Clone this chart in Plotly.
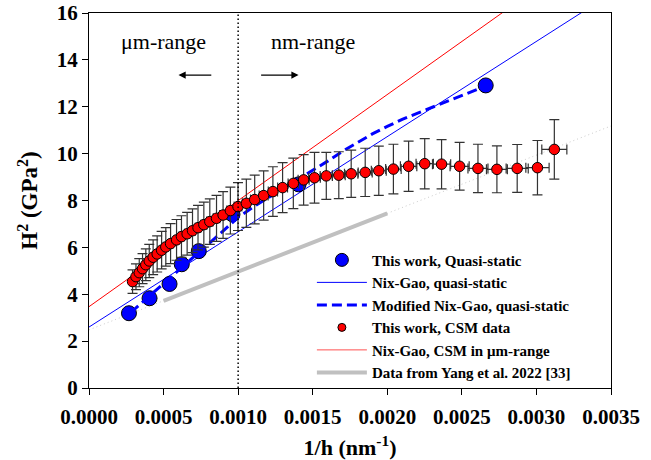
import plotly.graph_objects as go

# ---------------- data ----------------
# Quasi-static hardness (blue points)
qs_x = [0.000268, 0.000406, 0.000540, 0.000622, 0.000736, 0.000962, 0.001405, 0.002660]
qs_y = [3.19, 3.83, 4.44, 5.28, 5.84, 7.41, 8.69, 12.91]

# Nix-Gao fit, quasi-static (blue solid)
ng_qs_x = [0.0, 0.0035]
ng_qs_y = [2.60, 16.82]

# Modified Nix-Gao, quasi-static (blue dashed)
mng_x = [0.00028, 0.00040, 0.00050, 0.00060, 0.00070, 0.00080, 0.00090, 0.00100,
         0.00110, 0.00120, 0.00130, 0.00140, 0.00150, 0.00160, 0.00170, 0.00180,
         0.00190, 0.00200, 0.00210, 0.00220, 0.00230, 0.00240, 0.00250, 0.00262]
mng_y = [3.22, 3.88, 4.45, 5.02, 5.58, 6.13, 6.70, 7.28,
         7.72, 8.11, 8.50, 8.89, 9.28, 9.68, 10.10, 10.48,
         10.84, 11.16, 11.46, 11.72, 11.98, 12.23, 12.48, 12.78]

# CSM data (red points with error bars)
csm_x = [0.000292, 0.000315, 0.000337, 0.000359, 0.000381, 0.000404, 0.000430, 0.000457,
         0.000487, 0.000515, 0.000547, 0.000587, 0.000620, 0.000658, 0.000694, 0.000731,
         0.000770, 0.000810, 0.000855, 0.000899, 0.000948, 0.000999, 0.001055, 0.001111,
         0.001171, 0.001233, 0.001298, 0.001370, 0.001439, 0.001512, 0.001591, 0.001675,
         0.001758, 0.001852, 0.001943, 0.002041, 0.002143, 0.002251, 0.002364, 0.002485,
         0.002608, 0.002735, 0.002871, 0.003007, 0.003120]
csm_y = [4.54, 4.75, 4.92, 5.09, 5.26, 5.42, 5.58, 5.72,
         5.88, 6.02, 6.16, 6.32, 6.46, 6.58, 6.71, 6.84,
         6.97, 7.10, 7.24, 7.38, 7.57, 7.74, 7.88, 8.04,
         8.21, 8.38, 8.55, 8.73, 8.88, 8.97, 9.05, 9.08,
         9.14, 9.20, 9.27, 9.34, 9.46, 9.57, 9.55, 9.46,
         9.37, 9.33, 9.37, 9.40, 10.18]
csm_yerr = [0.50, 0.55, 0.60, 0.64, 0.68, 0.71, 0.74, 0.77,
            0.80, 0.82, 0.85, 0.87, 0.89, 0.91, 0.93, 0.95,
            0.96, 0.97, 0.98, 1.00, 1.00, 1.02, 1.03, 1.04,
            1.05, 1.06, 1.07, 1.08, 1.08, 1.08, 1.00, 1.00,
            1.01, 1.03, 1.05, 1.06, 1.07, 1.07, 1.05, 1.02,
            1.03, 1.00, 1.02, 1.16, 1.27]
csm_xerr = [0.000008, 0.000008, 0.000009, 0.000009, 0.000010, 0.000010, 0.000011, 0.000012,
            0.000012, 0.000013, 0.000014, 0.000015, 0.000016, 0.000017, 0.000018, 0.000019,
            0.000020, 0.000021, 0.000022, 0.000023, 0.000024, 0.000026, 0.000027, 0.000028,
            0.000030, 0.000031, 0.000033, 0.000035, 0.000037, 0.000039, 0.000041, 0.000043,
            0.000045, 0.000047, 0.000050, 0.000052, 0.000055, 0.000058, 0.000061, 0.000064,
            0.000067, 0.000070, 0.000074, 0.000078, 0.000084]

# Nix-Gao fit, CSM in um-range (red solid)
ng_csm_x = [0.0, 0.0035]
ng_csm_y = [3.47, 19.31]

# Data from Yang et al. 2022 (gray thick) and its extension (gray dotted)
yang_x = [0.0005, 0.0020]
yang_y = [3.72, 7.45]
yang_ext_x = [0.0, 0.0035]
yang_ext_y = [2.48, 11.18]

x_ticks = [0.0, 0.0005, 0.0010, 0.0015, 0.0020, 0.0025, 0.0030, 0.0035]
x_tick_labels = ["0.0000", "0.0005", "0.0010", "0.0015", "0.0020", "0.0025", "0.0030", "0.0035"]
y_ticks = [0, 2, 4, 6, 8, 10, 12, 14, 16]
boundary_x = 0.001

legend_names = ["This work, Quasi-static", "Nix-Gao, quasi-static",
                "Modified Nix-Gao, quasi-static", "This work, CSM data",
                "Nix-Gao, CSM in \u03bcm-range", "Data from Yang et al. 2022 [33]"]

FONT = "Liberation Serif"
BLUE = "#0000ff"
RED = "#ff0000"
GRAY = "#c0c0c0"

fig = go.Figure()

# gray dotted extension and thick gray data
fig.add_trace(go.Scatter(x=yang_ext_x, y=yang_ext_y, mode="lines",
                         line=dict(color="#cccccc", width=1, dash="1px,3px"), showlegend=False))
fig.add_trace(go.Scatter(x=yang_x, y=yang_y, mode="lines",
                         line=dict(color=GRAY, width=4), showlegend=False))
# Nix-Gao lines
fig.add_trace(go.Scatter(x=ng_qs_x, y=ng_qs_y, mode="lines",
                         line=dict(color=BLUE, width=1), showlegend=False))
fig.add_trace(go.Scatter(x=ng_csm_x, y=ng_csm_y, mode="lines",
                         line=dict(color=RED, width=1), showlegend=False))
# quasi-static points
fig.add_trace(go.Scatter(x=qs_x, y=qs_y, mode="markers",
                         marker=dict(color=BLUE, size=15, line=dict(color="black", width=1)),
                         showlegend=False))
# modified Nix-Gao dashed
fig.add_trace(go.Scatter(x=mng_x, y=mng_y, mode="lines",
                         line=dict(color=BLUE, width=3, dash="10px,5px"), showlegend=False))
# CSM points with error bars
fig.add_trace(go.Scatter(x=csm_x, y=csm_y, mode="markers",
                         marker=dict(color=RED, size=10.5, line=dict(color="black", width=1)),
                         error_y=dict(type="data", array=csm_yerr, visible=True,
                                      color="#333333", thickness=1.2, width=5),
                         error_x=dict(type="data", array=csm_xerr, visible=True,
                                      color="#333333", thickness=1.2, width=5),
                         showlegend=False))

# legend-only entries
fig.add_trace(go.Scatter(x=[None], y=[None], mode="markers", name=legend_names[0],
                         marker=dict(color=BLUE, size=13, line=dict(color="black", width=1)),
                         legendgroup="a"))
fig.add_trace(go.Scatter(x=[None], y=[None], mode="lines", name=legend_names[1],
                         line=dict(color=BLUE, width=1), legendgroup="a"))
fig.add_trace(go.Scatter(x=[None], y=[None], mode="lines", name=legend_names[2],
                         line=dict(color=BLUE, width=3, dash="10px,5px"), legendgroup="a"))
fig.add_trace(go.Scatter(x=[None], y=[None], mode="markers", name=legend_names[3],
                         marker=dict(color=RED, size=8, line=dict(color="black", width=1)),
                         legendgroup="b"))
fig.add_trace(go.Scatter(x=[None], y=[None], mode="lines", name=legend_names[4],
                         line=dict(color="#ff5050", width=1), legendgroup="b"))
fig.add_trace(go.Scatter(x=[None], y=[None], mode="lines", name=legend_names[5],
                         line=dict(color=GRAY, width=4), legendgroup="b"))

# vertical boundary line
fig.add_shape(type="line", xref="x", yref="y", x0=boundary_x, x1=boundary_x, y0=0, y1=16,
              line=dict(color="black", width=1.5, dash="1.5px,2.5px"))

# text annotations
fig.add_annotation(x=0.0005, y=14.8, xref="x", yref="y", text="\u03bcm-range",
                   showarrow=False, font=dict(family=FONT, size=22, color="black"))
fig.add_annotation(x=0.0015, y=14.8, xref="x", yref="y", text="nm-range",
                   showarrow=False, font=dict(family=FONT, size=22, color="black"))
# arrows
fig.add_annotation(x=0.00060, y=13.35, ax=0.00083, ay=13.35, xref="x", yref="y",
                   axref="x", ayref="y", text="", showarrow=True, arrowhead=2,
                   arrowsize=1.2, arrowwidth=1.2, arrowcolor="black")
fig.add_annotation(x=0.001405, y=13.35, ax=0.001144, ay=13.35, xref="x", yref="y",
                   axref="x", ayref="y", text="", showarrow=True, arrowhead=2,
                   arrowsize=1.2, arrowwidth=1.2, arrowcolor="black")

fig.update_layout(
    width=651, height=460,
    margin=dict(l=89, r=40, t=13, b=72, autoexpand=False),
    paper_bgcolor="white", plot_bgcolor="white",
    font=dict(family=FONT, color="black"),
    showlegend=True,
    legend=dict(x=0.427, y=0.385, xanchor="left", yanchor="top",
                bgcolor="rgba(0,0,0,0)", borderwidth=0,
                font=dict(family=FONT, size=15, color="black", weight="bold"),
                itemwidth=50, tracegroupgap=3, traceorder="normal"),
    xaxis=dict(range=[0, 0.0035], tickvals=x_ticks, ticktext=x_tick_labels,
               automargin=False,
               showgrid=False, zeroline=False, showline=True, linecolor="black",
               linewidth=1, mirror=True, ticks="outside", ticklen=6, tickcolor="black",
               ticklabelstandoff=4,
               tickfont=dict(family=FONT, size=21, color="black", weight="bold"),
               title=dict(text="1/h (nm<sup>-1</sup>)", standoff=12,
                          font=dict(family=FONT, size=22, color="black", weight="bold"))),
    yaxis=dict(range=[0, 16], tickvals=y_ticks, showgrid=False, zeroline=False,
               automargin=False,
               showline=True, linecolor="black", linewidth=1, mirror=True,
               ticks="outside", ticklen=6, tickcolor="black",
               tickfont=dict(family=FONT, size=21, color="black", weight="bold"),
               title=dict(text="H<sup>2</sup> (GPa<sup>2</sup>)", standoff=12,
                          font=dict(family=FONT, size=23, color="black", weight="bold"))),
)

fig.write_html("out.html", config={"displayModeBar": False},
               post_script="document.body.style.margin='0';document.body.style.overflow='hidden';")
